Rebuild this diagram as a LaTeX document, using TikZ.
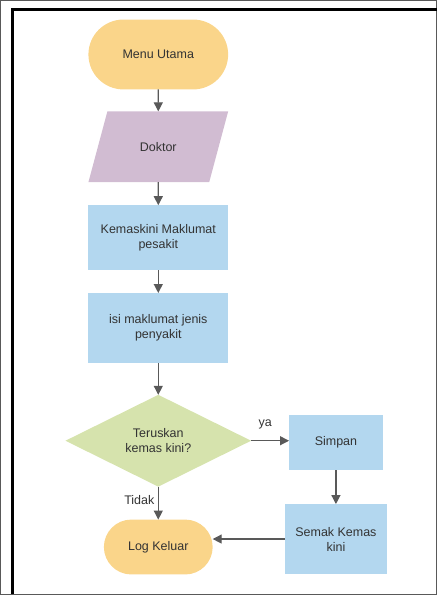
\documentclass[tikz,border=0pt]{standalone}
\usepackage{fontspec}
\setmainfont{Liberation Sans}
\usepackage{xcolor}
\usepackage{tikz}
\usetikzlibrary{arrows.meta, shapes.geometric}
\usetikzlibrary{positioning, calc}
\definecolor{termfill}{HTML}{FAD58A}
\definecolor{iofill}{HTML}{D1BCD2}
\definecolor{procfill}{HTML}{B3D7EF}
\definecolor{decfill}{HTML}{D6E3AD}
\definecolor{txtgray}{HTML}{333333}
\definecolor{linegray}{HTML}{595959}
\tikzset{
    flownode/.style = {inner sep=2pt, outer sep=0pt, text centered, align=center,
        text=txtgray, font=\fontsize{12.5}{15}\selectfont},
    termnode/.style = {flownode, rectangle, fill=termfill},
    iobox/.style = {flownode, trapezium, trapezium left angle=75,
        trapezium right angle=105, fill=iofill, inner sep=0pt,
        text width=102pt, text height=40pt, text depth=31pt},
    procbox/.style = {flownode, rectangle, fill=procfill},
    decide/.style = {flownode, diamond, aspect=2, fill=decfill,
        minimum width=186pt, minimum height=92pt, inner sep=0pt},
    flowlabel/.style = {text=txtgray, font=\fontsize{12.5}{15}\selectfont},
}

\begin{document}
\begin{tikzpicture}[->,>={Triangle[length=9pt,width=9pt]},
    every path/.style={draw=linegray, line width=1.2pt}]
        \useasboundingbox (0pt,0pt) rectangle (437pt,-595pt);
        \draw[-, black, line width=2.5pt] (12pt,-595pt) |- (437pt,-9pt);
        \coordinate (top) at (158pt,-54pt);
        \node [termnode, minimum width=140pt, minimum height=70pt,
            rounded corners=35pt] (menu) at (top) {Menu Utama};
        \node [iobox, below=22pt of menu] (doktor) {Doktor};
        \node [procbox, minimum width=140pt, minimum height=65pt,
            below=23pt of doktor] (kemaskini) {Kemaskini Maklumat\\pesakit};
        \node [procbox, minimum width=140pt, minimum height=70pt,
            below=23pt of kemaskini] (isi) {isi maklumat jenis\\penyakit};
        \node [decide, below=32pt of isi] (teruskan) {Teruskan\\kemas kini?};
        \node [procbox, minimum width=94pt, minimum height=55pt,
            right=38pt of teruskan, yshift=-2pt] (simpan) {Simpan};
        \node [procbox, minimum width=102pt, minimum height=70pt,
            below=34pt of simpan] (semak) {Semak Kemas\\kini};
        \node [termnode, minimum width=109pt, minimum height=55pt,
            rounded corners=27.5pt, below=33pt of teruskan] (keluar) {Log Keluar};

        \draw (menu) -- (doktor);
        \draw (doktor) -- (kemaskini);
        \draw (kemaskini) -- (isi);
        \draw (isi) -- (teruskan);
        \draw (teruskan.east) -- node [flowlabel, above=8pt, pos=0.37] {ya}
            (teruskan.east -| simpan.west);
        \draw (teruskan) -- node [flowlabel, left, pos=0.4] {Tidak} (keluar);
        \draw (simpan) -- (semak);
        \draw (semak.west) -- (semak.west -| keluar.east);
\end{tikzpicture}
\end{document}
